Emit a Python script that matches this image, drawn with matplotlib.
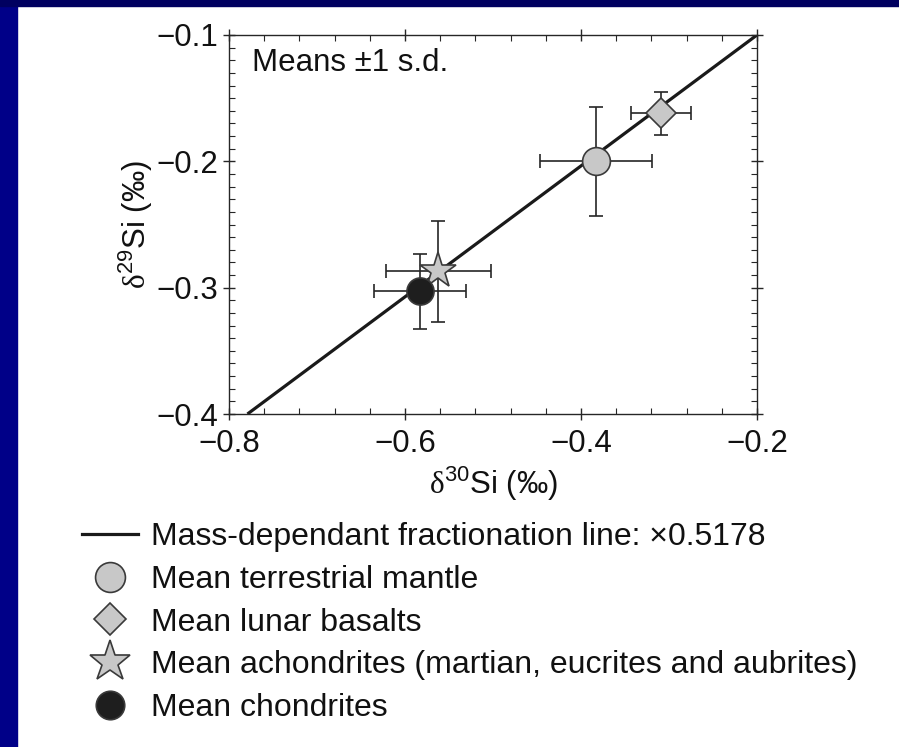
import matplotlib
matplotlib.use("Agg")
import matplotlib.pyplot as plt
from matplotlib.lines import Line2D
from matplotlib.patches import Rectangle
from matplotlib.ticker import MultipleLocator

plt.rcParams['font.family'] = ['Liberation Sans', 'DejaVu Sans']
plt.rcParams['mathtext.fontset'] = 'custom'
plt.rcParams['mathtext.rm'] = 'Liberation Serif'
plt.rcParams['mathtext.sf'] = 'Liberation Sans'

# fractionation line end points
line_x = [-0.779, -0.2]
line_y = [-0.4, -0.1]

# group means and 1 s.d.
groups = ['Mean terrestrial mantle', 'Mean lunar basalts',
          'Mean achondrites (martian, eucrites and aubrites)', 'Mean chondrites']
d30 = [-0.383, -0.309, -0.562, -0.583]
d29 = [-0.200, -0.162, -0.287, -0.303]
d30_sd = [0.064, 0.034, 0.060, 0.052]
d29_sd = [0.043, 0.017, 0.040, 0.030]

line_label = 'Mass-dependant fractionation line: \u00d70.5178'

markers = ['o', 'D', '*', 'o']
msizes = [20, 15.3, 27, 19.5]
faces = ['#c8c8c8', '#c8c8c8', '#c8c8c8', '#1e1e1e']
leg_sizes = [21.5, 16.5, 31, 20.5]

ink = '#262626'
txt = '#111111'
fs = 22.5

fig = plt.figure(figsize=(8.99, 7.47), dpi=100)
fig.patch.set_facecolor('white')

# blue slide frame
fig.patches.append(Rectangle((0, 0), 17 / 899, 1, transform=fig.transFigure,
                             color='#000088', zorder=0))
fig.patches.append(Rectangle((0, 1 - 6 / 747), 1, 6 / 747, transform=fig.transFigure,
                             color='#000060', zorder=0))

ax = fig.add_axes([229 / 899, 1 - 414 / 747, 528 / 899, 379 / 747])

ax.plot(line_x, line_y, color='#1a1a1a', lw=2.3, zorder=2, solid_capstyle='butt')

# star before chondrites so the black disc sits on top
for i in [0, 1, 2, 3]:
    ax.errorbar(d30[i], d29[i], xerr=d30_sd[i], yerr=d29_sd[i],
                fmt=markers[i], ms=msizes[i], mfc=faces[i], mec='#3a3a3a', mew=1.2,
                ecolor=ink, elinewidth=1.2, capsize=4.7, capthick=1.2, zorder=3)

ax.set_xlim(-0.8, -0.2)
ax.set_ylim(-0.4, -0.1)
ax.xaxis.set_major_locator(MultipleLocator(0.2))
ax.xaxis.set_minor_locator(MultipleLocator(0.04))
ax.yaxis.set_major_locator(MultipleLocator(0.1))
ax.yaxis.set_minor_locator(MultipleLocator(0.01))
fmt = plt.FuncFormatter(lambda v, p: f'{v:.1f}'.replace('-', '\u2212'))
ax.xaxis.set_major_formatter(fmt)
ax.yaxis.set_major_formatter(fmt)
ax.tick_params(which='major', direction='inout', length=8, width=1, color=ink,
               top=True, right=True, labelsize=fs, labelcolor=txt)
ax.tick_params(which='minor', direction='in', length=4, width=0.8, color=ink,
               top=True, right=True)
ax.tick_params(axis='x', which='major', pad=7)
ax.tick_params(axis='y', which='major', pad=4)
for s in ax.spines.values():
    s.set_color(ink)
    s.set_linewidth(1.0)

ax.set_xlabel(r'$\mathrm{\delta}^{\mathsf{30}}$Si (‰)', fontsize=fs, color=txt, labelpad=4)
ax.set_ylabel(r'$\mathrm{\delta}^{\mathsf{29}}$Si (‰)', fontsize=fs, color=txt, labelpad=1)

ax.text(0.043, 0.926, 'Means \u00b11 s.d.', transform=ax.transAxes,
        fontsize=fs, va='center', ha='left', color=txt)

handles = [Line2D([], [], color='#1a1a1a', lw=2.3)]
for i in range(4):
    handles.append(Line2D([], [], ls='none', marker=markers[i], ms=leg_sizes[i],
                          mfc=faces[i], mec='#3a3a3a', mew=1.2))
fig.legend(handles, [line_label] + groups, loc='upper left',
           bbox_to_anchor=(82 / 899, 1 - 522 / 747), frameon=False,
           fontsize=23, handlelength=1.75, handletextpad=0.4,
           labelspacing=0.4, borderpad=0, borderaxespad=0, labelcolor=txt)

fig.savefig('out.png', dpi=100)
